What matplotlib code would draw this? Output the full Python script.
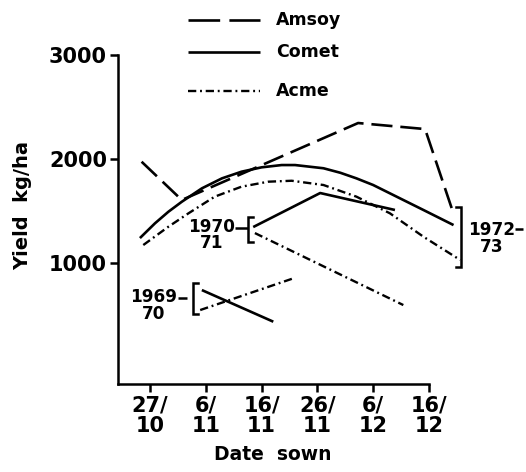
import matplotlib
matplotlib.use("Agg")
import matplotlib.pyplot as plt
from matplotlib.lines import Line2D

# x = days after 27 Oct, y = yield kg/ha
tick_days = [0, 10, 20, 30, 40, 50]
tick_labels = ["27/\n10", "6/\n11", "16/\n11", "26/\n11", "6/\n12", "16/\n12"]
y_ticks = [1000, 2000, 3000]

# 1972-73 season
amsoy_7273_x = [-1.5, 5.7, 37.3, 49.3, 54.3]
amsoy_7273_y = [1974, 1606, 2346, 2288, 1490]
comet_7273_x = [-1.8, 0.9, 3.3, 5.7, 9.3, 12.9, 16.4, 20.0, 23.6, 26.0,
                31.1, 34.1, 37.0, 40.0, 43.0, 46.0, 49.0, 54.4]
comet_7273_y = [1240, 1382, 1493, 1589, 1718, 1814, 1878, 1920, 1942, 1942,
                1911, 1868, 1814, 1750, 1670, 1590, 1510, 1365]
acme_7273_x = [-1.2, 3.3, 6.9, 11.6, 16.4, 21.2, 25.4, 31.1, 37.0, 43.0, 49.0, 55.6]
acme_7273_y = [1173, 1349, 1478, 1638, 1734, 1782, 1791, 1750, 1638, 1478, 1253, 1029]

# 1970-71 season
comet_7071_x = [18.5, 30.5, 43.9]
comet_7071_y = [1346, 1673, 1510]
acme_7071_x = [18.8, 45.4]
acme_7071_y = [1288, 596]

# 1969-70 season
comet_6970_x = [9.3, 22.1]
comet_6970_y = [740, 436]
acme_6970_x = [9.0, 25.7]
acme_6970_y = [548, 853]

plt.rcParams['font.family'] = ['DejaVu Sans']
plt.rcParams['font.weight'] = 'bold'

W, H = 526, 472
fig = plt.figure(figsize=(W / 100, H / 100), dpi=100)
ax = fig.add_axes([118 / W, 1 - 384 / H, (506 - 118) / W, (384 - 55) / H])
ax.set_xlim(-5.73, 63.8)
ax.set_ylim(-163, 3000)

AMSOY = dict(color="black", lw=1.9, linestyle=(0, (8, 3)), dash_capstyle="butt")
COMET = dict(color="black", lw=1.9, solid_joinstyle="round", solid_capstyle="butt")
ACME = dict(color="black", lw=1.7, linestyle=(0, (3.5, 1.6, 0.8, 1.6)))

ax.plot(amsoy_7273_x, amsoy_7273_y, clip_on=False, **AMSOY)
ax.plot(comet_7273_x, comet_7273_y, clip_on=False, **COMET)
ax.plot(acme_7273_x, acme_7273_y, clip_on=False, **ACME)
ax.plot(comet_7071_x, comet_7071_y, **COMET)
ax.plot(acme_7071_x, acme_7071_y, **ACME)
ax.plot(comet_6970_x, comet_6970_y, **COMET)
ax.plot(acme_6970_x, acme_6970_y, **ACME)

LW_B = 1.8


def bracket(x, y0, y1, serif):
    ax.plot([x + serif, x, x, x + serif], [y0, y0, y1, y1], color="black",
            lw=LW_B, clip_on=False, solid_joinstyle="miter")
    return x


def season_label(xc, yc, top, bottom, x0, x1, yh):
    ax.text(xc, yc, f"{top}\n{bottom}", ha="center", va="center",
            multialignment="center", linespacing=0.92, fontsize=12.2)
    ax.plot([x0, x1], [yh, yh], color="black", lw=LW_B, clip_on=False,
            solid_capstyle="butt")


# season brackets, placed from the series ends
bx = bracket(min(comet_7071_x[0], acme_7071_x[0]) - 0.9,
             min(comet_7071_y[0], acme_7071_y[0]) - 85,
             max(comet_7071_y[0], acme_7071_y[0]) + 95, 0.9)
season_label(11.1, 1269, "1970", "71", 15.2, bx, 1340)

bx = bracket(min(comet_6970_x[0], acme_6970_x[0]) - 1.3,
             min(comet_6970_y[0], acme_6970_y[0]) - 35,
             max(comet_6970_y[0], acme_6970_y[0]) + 70, 0.9)
season_label(0.6, 591, "1969", "70", 5.0, 6.7, 664)

ends = [amsoy_7273_y[-1], comet_7273_y[-1], acme_7273_y[-1]]
bx = bracket(max(amsoy_7273_x[-1], comet_7273_x[-1], acme_7273_x[-1]) + 0.2,
             min(ends) - 64, max(ends) + 51, -0.9)
season_label(61.3, 1236, "1972", "73", 65.4, 66.9, 1327)

ax.set_xticks(tick_days, tick_labels)
ax.set_yticks(y_ticks, [str(v) for v in y_ticks])
ax.tick_params(direction="out", length=6, width=1.8, pad=2, labelsize=15)
for lab in ax.get_xticklabels():
    lab.set_linespacing(1.08)
for s in ("top", "right"):
    ax.spines[s].set_visible(False)
for s in ("left", "bottom"):
    ax.spines[s].set_linewidth(1.8)
ax.spines["bottom"].set_bounds(-5.73, 50)

fig.text(23 / W, 1 - 205 / H, "Yield  kg/ha", rotation=90, ha="center", va="center",
         fontsize=14)
fig.text(273 / W, 1 - 455 / H, "Date  sown", ha="center", va="center", fontsize=13.5)

# legend drawn by hand above the axes
leg = [("Amsoy", dict(color="black", lw=1.9, linestyle=(0, (12, 3.5))), 20),
       ("Comet", COMET, 52),
       ("Acme", ACME, 91)]
for name, style, py in leg:
    fig.add_artist(Line2D([188 / W, 260 / W], [1 - py / H, 1 - py / H], **style))
    fig.text(276 / W, 1 - py / H, name, ha="left", va="center", fontsize=12.5)

fig.savefig("out.png", dpi=100)
